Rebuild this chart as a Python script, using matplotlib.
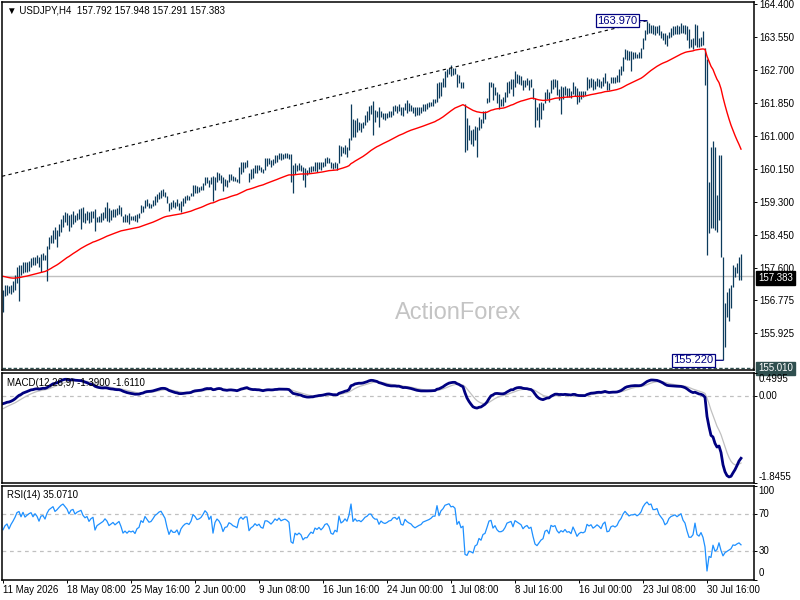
import numpy as np
import matplotlib
matplotlib.use("Agg")
import matplotlib.pyplot as plt

plt.rcParams['font.family'] = ['Liberation Sans', 'DejaVu Sans']

# ---------------- data ----------------
symbol_title = "USDJPY,H4"
last_ohlc = [157.792, 157.948, 157.291, 157.383]

highs = [
    157.03, 157.16, 157.16, 157.13, 157.16, 157.27, 157.42, 157.63, 157.68, 157.68,
    157.75, 157.75, 157.75, 157.78, 157.85, 157.87, 157.89, 157.92, 157.87, 157.96,
    157.98, 157.94, 158.17, 158.39, 158.45, 158.58, 158.65, 158.58, 158.73, 158.85,
    158.96, 159.05, 159.01, 158.96, 158.99, 159.07, 158.96, 159.02, 159.11, 159.14,
    159.18, 159.02, 159.07, 159.05, 159.07, 159.07, 159.11, 158.92, 158.94, 159.01,
    159.05, 159.16, 159.30, 159.14, 159.09, 159.11, 159.11, 159.14, 159.22, 159.16,
    158.95, 159.00,
    158.96, 159.01, 158.94, 158.94, 158.96, 158.98, 159.01, 159.22, 159.20, 159.35,
    159.37, 159.28, 159.25, 159.35, 159.45, 159.50, 159.56, 159.61, 159.63, 159.56,
    159.44, 159.26, 159.30, 159.35, 159.30, 159.37, 159.28, 159.33, 159.39, 159.45,
    159.48, 159.45, 159.52, 159.74, 159.74, 159.72, 159.68, 159.71, 159.78, 159.94,
    159.95, 159.87, 159.94, 159.97, 159.94, 160.08, 160.05, 159.99, 159.94, 159.88,
    159.87, 160.02, 160.02, 159.97, 159.95, 159.88, 160.21, 160.34, 160.34, 160.34,
    160.38, 160.05, 160.15,
    160.17, 160.25, 160.25, 160.25, 160.21, 160.14, 160.42, 160.42, 160.42, 160.38,
    160.40, 160.51, 160.51, 160.55, 160.55, 160.53, 160.57, 160.55, 160.53, 160.53,
    160.25, 160.30, 160.25, 160.30, 160.25, 160.21, 160.17, 160.12, 160.19, 160.23,
    160.23, 160.34, 160.34, 160.34, 160.34, 160.34, 160.42, 160.45, 160.42, 160.34,
    160.30, 160.34, 160.30, 160.77, 160.74, 160.72, 160.77, 160.72, 160.94, 161.82,
    161.43, 161.41, 161.45, 161.37, 161.33, 161.37, 161.54, 161.65, 161.77, 161.80,
    161.91, 161.67,
    161.65, 161.74, 161.63, 161.60, 161.60, 161.60, 161.63, 161.65, 161.77, 161.80,
    161.77, 161.82, 161.75, 161.74, 161.86, 161.93, 161.84, 161.80, 161.75, 161.75,
    161.74, 161.75, 161.75, 161.82, 161.82, 161.86, 161.88, 161.88, 161.95, 161.95,
    162.37, 162.40, 162.40, 162.49, 162.68, 162.72, 162.74, 162.83, 162.74, 162.74,
    162.60, 162.57, 162.40, 162.40, 161.82, 161.45, 161.28, 161.15, 161.17, 161.25,
    161.22, 161.48, 161.43, 161.63, 161.65, 161.97, 162.40, 162.40, 162.36, 162.27,
    162.14, 162.08,
    161.95, 161.99, 162.14, 162.40, 162.42, 162.46, 162.46, 162.68, 162.60, 162.57,
    162.55, 162.44, 162.44, 162.49, 162.44, 162.46, 162.23, 161.97, 161.74, 161.86,
    161.88, 161.86, 162.14, 162.20, 162.14, 162.44, 162.46, 162.46, 162.44, 162.20,
    162.29, 162.27, 162.29, 162.23, 162.23, 162.17, 162.40, 162.29, 162.23, 162.17,
    162.17, 162.17, 162.17, 162.51, 162.46, 162.49, 162.46, 162.42, 162.49, 162.46,
    162.42, 162.53, 162.61, 162.42, 162.37, 162.53, 162.53, 162.53, 162.57, 162.72,
    162.79, 163.03,
    163.23, 163.22, 163.20, 163.20, 163.17, 163.15, 163.12, 163.15, 163.26, 163.52,
    163.73, 163.97, 163.90, 163.86, 163.86, 163.82, 163.83, 163.86, 163.71, 163.66,
    163.64, 163.60, 163.69, 163.77, 163.82, 163.83, 163.86, 163.83, 163.92, 163.86,
    163.86, 163.83, 163.75, 163.49, 163.52, 163.88, 163.86, 163.52, 163.56, 163.71,
    163.26, 162.98, 159.82, 160.71, 160.88, 160.72, 159.48, 160.51, 160.51, 157.89,
    156.69, 156.99, 157.07, 157.16, 157.68, 157.63, 157.72, 157.89, 157.948,
]

lows = [
    156.47, 156.88, 156.90, 156.95, 156.93, 156.99, 157.03, 157.20, 156.76, 157.42,
    157.48, 157.50, 157.50, 157.53, 157.62, 157.68, 157.68, 157.72, 157.63, 157.50,
    157.80, 157.80, 157.27, 158.08, 158.23, 158.25, 158.34, 158.15, 158.42, 158.53,
    158.65, 158.77, 158.71, 158.56, 158.65, 158.73, 158.79, 158.84, 158.85, 158.60,
    158.77, 158.75, 158.84, 158.75, 158.77, 158.88, 158.56, 158.77, 158.77, 158.79,
    158.84, 158.88, 158.82, 158.77, 158.84, 158.92, 158.92, 158.96, 158.99, 158.94,
    158.77, 158.78,
    158.79, 158.73, 158.84, 158.84, 158.82, 158.79, 158.88, 159.02, 159.05, 159.14,
    159.20, 159.14, 159.14, 159.20, 159.22, 159.30, 159.37, 159.39, 159.45, 159.42,
    159.27, 159.07, 159.11, 159.16, 159.14, 159.20, 159.09, 159.05, 159.20, 159.28,
    159.35, 159.35, 159.44, 159.44, 159.54, 159.54, 159.56, 159.61, 159.61, 159.74,
    159.78, 159.68, 159.76, 159.33, 159.61, 159.82, 159.87, 159.78, 159.57, 159.71,
    159.68, 159.82, 159.87, 159.85, 159.85, 159.82, 159.78, 160.02, 160.08, 160.17,
    160.21, 159.82, 159.90,
    159.91, 160.04, 160.05, 160.12, 160.08, 160.05, 160.12, 160.23, 160.28, 160.21,
    160.25, 160.30, 160.34, 160.40, 160.38, 160.40, 160.42, 160.42, 160.40, 159.82,
    159.52, 160.02, 160.10, 160.12, 160.10, 159.87, 159.69, 159.99, 160.04, 160.08,
    160.10, 160.10, 160.08, 160.14, 160.12, 160.21, 160.23, 160.31, 160.30, 160.17,
    160.14, 160.17, 160.12, 160.30, 160.48, 160.55, 160.53, 160.45, 160.64, 160.90,
    160.97, 160.97, 161.11, 161.15, 161.09, 161.20, 161.28, 161.37, 161.41, 161.57,
    161.02, 161.37,
    161.48, 161.24, 161.48, 161.43, 161.42, 161.46, 161.50, 161.48, 161.54, 161.63,
    161.60, 161.65, 161.54, 161.51, 161.67, 161.60, 161.65, 161.63, 161.60, 161.51,
    161.54, 161.54, 161.60, 161.65, 161.65, 161.69, 161.74, 161.77, 161.77, 161.84,
    161.88, 161.97, 162.03, 162.25, 162.25, 162.51, 162.60, 162.55, 162.57, 162.60,
    162.25, 162.36, 162.23, 162.23, 160.59, 160.64, 160.90, 160.79, 160.74, 160.90,
    160.45, 161.15, 161.20, 161.33, 161.43, 161.84, 161.88, 162.27, 161.93, 162.06,
    161.86, 161.69,
    161.77, 161.77, 161.88, 162.01, 162.10, 162.20, 162.03, 162.27, 162.37, 162.34,
    162.31, 162.18, 162.27, 162.31, 162.18, 162.27, 161.95, 161.24, 161.41, 161.24,
    161.43, 161.67, 161.86, 161.95, 161.88, 162.10, 162.20, 162.27, 162.06, 161.93,
    161.57, 161.95, 162.06, 161.99, 162.01, 161.97, 162.08, 162.03, 161.82, 161.88,
    161.95, 161.99, 162.06, 162.18, 162.23, 162.27, 162.18, 162.20, 162.29, 162.27,
    162.23, 162.29, 162.36, 162.18, 162.18, 162.37, 162.37, 162.37, 162.40, 162.40,
    162.57, 162.68,
    162.98, 162.96, 162.96, 162.66, 162.98, 163.00, 163.00, 163.02, 163.00, 163.23,
    163.47, 163.63, 163.66, 163.66, 163.63, 163.60, 163.64, 163.60, 163.52, 163.47,
    163.37, 163.32, 163.52, 163.56, 163.60, 163.63, 163.63, 163.63, 163.66, 163.64,
    163.63, 163.47, 163.26, 163.29, 163.23, 163.34, 163.29, 163.29, 163.32, 163.34,
    162.31, 157.93, 158.51, 158.62, 158.62, 158.58, 158.53, 158.84, 157.89, 155.22,
    155.57, 156.34, 156.22, 156.56, 157.12, 157.37, 157.46, 157.29, 157.291,
]

closes = [
    156.95, 157.05, 157.10, 157.00, 157.12, 157.22, 157.35, 157.55, 157.60, 157.50,
    157.70, 157.60, 157.68, 157.75, 157.80, 157.72, 157.85, 157.80, 157.70, 157.90,
    157.92, 157.85, 158.10, 158.30, 158.40, 158.50, 158.40, 158.50, 158.65, 158.80,
    158.90, 158.85, 158.80, 158.70, 158.90, 158.95, 158.85, 158.95, 159.00, 159.05,
    158.95, 158.90, 158.95, 158.85, 158.95, 159.00, 158.70, 158.85, 158.90, 158.95,
    159.00, 159.10, 159.05, 158.95, 159.00, 159.05, 159.00, 159.05, 159.10, 159.00,
    158.85, 158.90,
    158.85, 158.90, 158.88, 158.90, 158.85, 158.95, 158.98, 159.15, 159.12, 159.30,
    159.25, 159.20, 159.22, 159.30, 159.40, 159.45, 159.52, 159.55, 159.50, 159.45,
    159.30, 159.15, 159.25, 159.20, 159.20, 159.25, 159.15, 159.28, 159.35, 159.40,
    159.42, 159.40, 159.48, 159.68, 159.65, 159.60, 159.62, 159.66, 159.75, 159.88,
    159.85, 159.75, 159.85, 159.50, 159.85, 160.00, 159.95, 159.85, 159.65, 159.80,
    159.82, 159.98, 159.95, 159.90, 159.88, 159.85, 160.15, 160.25, 160.20, 160.30,
    160.30, 159.95, 160.05,
    160.10, 160.20, 160.15, 160.20, 160.12, 160.10, 160.35, 160.35, 160.32, 160.28,
    160.35, 160.45, 160.42, 160.50, 160.45, 160.48, 160.50, 160.48, 160.45, 160.00,
    159.95, 160.20, 160.15, 160.20, 160.15, 160.00, 160.05, 160.05, 160.12, 160.18,
    160.15, 160.28, 160.25, 160.30, 160.25, 160.30, 160.38, 160.40, 160.35, 160.22,
    160.20, 160.28, 160.25, 160.70, 160.55, 160.60, 160.70, 160.65, 160.90, 161.70,
    161.10, 161.30, 161.20, 161.25, 161.20, 161.32, 161.48, 161.55, 161.70, 161.70,
    161.60, 161.55,
    161.55, 161.40, 161.55, 161.50, 161.48, 161.52, 161.58, 161.60, 161.70, 161.72,
    161.68, 161.78, 161.62, 161.60, 161.80, 161.75, 161.72, 161.70, 161.65, 161.62,
    161.65, 161.68, 161.70, 161.76, 161.78, 161.80, 161.82, 161.85, 161.90, 161.90,
    162.25, 162.10, 162.30, 162.40, 162.60, 162.65, 162.70, 162.65, 162.68, 162.65,
    162.35, 162.45, 162.30, 162.35, 160.95, 160.85, 161.00, 160.95, 160.85, 161.10,
    161.15, 161.40, 161.30, 161.55, 161.60, 161.90, 162.30, 162.35, 162.00, 162.15,
    161.95, 161.85,
    161.85, 161.90, 162.05, 162.30, 162.35, 162.40, 162.20, 162.55, 162.50, 162.45,
    162.40, 162.25, 162.35, 162.40, 162.30, 162.35, 162.00, 161.60, 161.50, 161.60,
    161.70, 161.75, 162.05, 162.10, 161.95, 162.35, 162.30, 162.35, 162.15, 162.05,
    162.15, 162.10, 162.20, 162.10, 162.12, 162.05, 162.30, 162.15, 161.95, 162.05,
    162.10, 162.08, 162.12, 162.40, 162.35, 162.40, 162.30, 162.35, 162.42, 162.38,
    162.32, 162.48, 162.55, 162.28, 162.30, 162.45, 162.48, 162.45, 162.50, 162.65,
    162.75, 162.95,
    163.10, 163.05, 163.00, 163.05, 163.05, 163.08, 163.05, 163.10, 163.20, 163.45,
    163.65, 163.80, 163.75, 163.80, 163.70, 163.70, 163.75, 163.65, 163.60, 163.55,
    163.45, 163.50, 163.65, 163.72, 163.75, 163.78, 163.75, 163.80, 163.85, 163.75,
    163.70, 163.55, 163.40, 163.40, 163.45, 163.75, 163.45, 163.40, 163.50, 163.35,
    162.95, 158.30, 159.50, 159.20, 160.50, 159.00, 159.20, 160.10, 158.00, 155.90,
    156.40, 156.60, 156.80, 157.00, 157.55, 157.45, 157.65, 157.79, 157.383,
]

support_level = 155.010
trend_start = (-0.5, 159.96)        # (bar index, price); ends at the swing high
price_ticks = [164.400, 163.550, 162.700, 161.850, 161.000, 160.150,
               159.300, 158.450, 157.600, 156.775, 155.925]
date_tick_bars = [0, 32, 64, 96, 128, 160, 192, 224, 256, 288, 320, 352]
date_tick_labels = ["11 May 2026", "18 May 08:00", "25 May 16:00", "2 Jun 00:00",
                    "9 Jun 08:00", "16 Jun 16:00", "24 Jun 00:00", "1 Jul 08:00",
                    "8 Jul 16:00", "16 Jul 00:00", "23 Jul 08:00", "30 Jul 16:00"]
macd_title = "MACD(12,26,9) -1.3900 -1.6110"
rsi_title = "RSI(14) 35.0710"
macd_range = (-1.8455, 0.4995)
rsi_levels = [100, 70, 30, 0]

# seeds for indicators (state before first visible bar)
ema55_seed = 157.40
ema12_seed, ema26_seed, signal_seed = 157.05, 157.22, -0.30
rsi_gain_seed, rsi_loss_seed = 0.045, 0.040

# ---------------- indicators ----------------
def ema(values, period, seed):
    a = 2.0 / (period + 1)
    out, e = [], seed
    for v in values:
        e = e + a * (v - e)
        out.append(e)
    return np.array(out)

c = np.array(closes)
ema55 = ema(c, 55, ema55_seed)
macd_main = ema(c, 12, ema12_seed) - ema(c, 26, ema26_seed)
macd_sig = ema(macd_main, 9, signal_seed)

rsi = []
ag, al = rsi_gain_seed, rsi_loss_seed
prev = c[0]
for v in c:
    d = v - prev
    ag = (ag * 13 + max(d, 0)) / 14
    al = (al * 13 + max(-d, 0)) / 14
    rsi.append(100 - 100 / (1 + ag / al))
    prev = v
rsi = np.array(rsi)

x = np.arange(len(closes))
hi_idx = int(np.argmax(highs))
lo_idx = int(np.argmin(lows))

# ---------------- figure ----------------
W, H = 800, 600
fig = plt.figure(figsize=(8, 6), dpi=100)
fig.patch.set_facecolor('white')

def rect(l, t, r, b):
    return [l / W, 1 - b / H, (r - l) / W, (b - t) / H]

ax = fig.add_axes(rect(2, 2, 754, 370))
axm = fig.add_axes(rect(2, 372.5, 754, 482.5))
axr = fig.add_axes(rect(2, 485.5, 754, 579.5))

FS = 7
for a in (ax, axm, axr):
    a.set_xlim(-0.5, 375.5)
    for s in a.spines.values():
        s.set_color('black')
        s.set_linewidth(1.1)
    a.yaxis.tick_right()
    a.tick_params(axis='y', which='both', left=False, right=True, labelleft=False,
                  labelright=True, length=2.5, width=0.7, pad=1.5, labelsize=FS,
                  colors='black')
    a.tick_params(axis='x', bottom=False, labelbottom=False)

# ---- main price panel ----
ax.set_ylim(154.97, 164.45)
ax.vlines(x, lows, highs, color='#0c3b5c', lw=0.9)
ax.plot(x, ema55, color='#ff0000', lw=1.0)
ax.plot([trend_start[0], hi_idx], [trend_start[1], highs[hi_idx]],
        color='black', lw=0.8, ls=(0, (3, 3)))
ax.axhline(closes[-1], color='#c0c0c0', lw=1.0, zorder=0)
ax.axhline(support_level, color='#2f4f4f', lw=1.0, ls=(0, (2.5, 1.5)))
ax.set_yticks(price_ticks)
ax.set_yticklabels([f"{v:.3f}" for v in price_ticks])

bb = dict(boxstyle='square,pad=0.12', fc='white', ec='#000080', lw=0.9)
ax.annotate(f"{highs[hi_idx]:.3f}", xy=(hi_idx, highs[hi_idx]), xytext=(-7, 0),
            textcoords='offset points', ha='right', va='center', fontsize=8,
            color='#000080', bbox=bb,
            arrowprops=dict(arrowstyle='-', color='#000080', lw=0.9,
                            shrinkA=0, shrinkB=0))
ax.annotate(f"{lows[lo_idx]:.3f}", xy=(lo_idx, lows[lo_idx]), xytext=(-7, 0),
            textcoords='offset points', ha='right', va='center', fontsize=8,
            color='#000080', bbox=bb,
            arrowprops=dict(arrowstyle='-', color='#000080', lw=0.9,
                            shrinkA=0, shrinkB=0))

ax.annotate(f"{closes[-1]:.3f}", xy=(1, closes[-1]), xycoords=('axes fraction', 'data'),
            xytext=(3, -1), textcoords='offset points', ha='left', va='center',
            fontsize=FS, color='white', zorder=5,
            bbox=dict(boxstyle='square,pad=0.2', fc='black', ec='black'),
            annotation_clip=False)
ax.annotate(f"{support_level:.3f}", xy=(1, support_level), xycoords=('axes fraction', 'data'),
            xytext=(3, 0), textcoords='offset points', ha='left', va='center',
            fontsize=FS, color='white',
            bbox=dict(boxstyle='square,pad=0.2', fc='#2f4f4f', ec='#2f4f4f'),
            annotation_clip=False)

title = "\u25BC " + symbol_title + "  " + " ".join(f"{v:.3f}" for v in last_ohlc)
ax.text(0.0066, 0.978, title, transform=ax.transAxes, ha='left', va='center',
        fontsize=FS, color='black')
ax.text(0.606, 0.155, "ActionForex", transform=ax.transAxes, ha='center',
        va='center', fontsize=17, color='#c4c4c4')

# ---- MACD panel ----
axm.set_ylim(*macd_range)
axm.axhline(0, color='#c0c0c0', lw=0.9, ls=(0, (3, 3)))
axm.plot(x, macd_sig, color='#c0c0c0', lw=0.9)
axm.plot(x, macd_main, color='#000080', lw=2.0)
axm.set_yticks([macd_range[1], 0, macd_range[0]])
axm.set_yticklabels([])
for val, dy, txt in [(macd_range[1], -5, f"{macd_range[1]:.4f}"),
                     (0.0, 0, "0.00"),
                     (macd_range[0], 4, f"{macd_range[0]:.4f}")]:
    axm.annotate(txt, xy=(1, val), xycoords=('axes fraction', 'data'),
                 xytext=(3.3, dy), textcoords='offset points', ha='left',
                 va='center', fontsize=FS, annotation_clip=False)
axm.text(0.0066, 0.9, macd_title, transform=axm.transAxes, ha='left', va='center',
         fontsize=FS, color='black')

# ---- RSI panel ----
axr.set_ylim(0, 100)
for lv in (70, 30):
    axr.axhline(lv, color='#c0c0c0', lw=0.9, ls=(0, (3, 3)))
axr.plot(x, rsi, color='#1e90ff', lw=0.9)
axr.set_yticks(rsi_levels)
axr.set_yticklabels([])
for val in rsi_levels:
    dy = -4 if val == 100 else (5 if val == 0 else 0)
    axr.annotate(f"{val}", xy=(1, val), xycoords=('axes fraction', 'data'),
                 xytext=(3.3, dy), textcoords='offset points', ha='left',
                 va='center', fontsize=FS, annotation_clip=False)
axr.text(0.0066, 0.9, rsi_title, transform=axr.transAxes, ha='left', va='center',
         fontsize=FS, color='black')

axr.set_xticks(date_tick_bars)
axr.set_xticklabels(date_tick_labels)
axr.tick_params(axis='x', bottom=True, labelbottom=True, length=2, width=0.7,
                pad=2, labelsize=FS, direction='out')
for lbl in axr.get_xticklabels():
    lbl.set_horizontalalignment('left')

fig.savefig("out.png", dpi=100, facecolor='white')
